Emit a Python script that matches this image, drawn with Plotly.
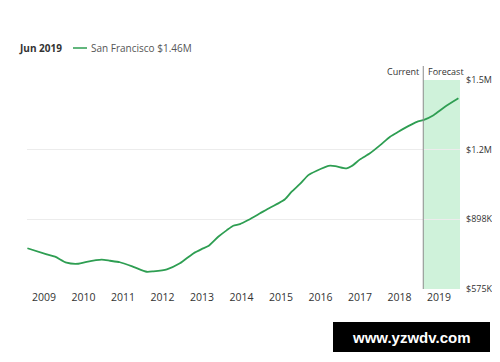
import plotly.graph_objects as go

# Data (decimal year, median value in $K)
years = [2008.58, 2009.07, 2009.28, 2009.57, 2009.87, 2010.08, 2010.46, 2010.67, 2010.92,
         2011.26, 2011.60, 2011.77, 2012.11, 2012.44, 2012.78, 2012.99, 2013.16, 2013.41,
         2013.63, 2013.79, 2013.96, 2014.17, 2014.47, 2014.72, 2014.93, 2015.10, 2015.27,
         2015.48, 2015.69, 2015.90, 2016.20, 2016.37, 2016.66, 2016.79, 2017.00, 2017.25,
         2017.51, 2017.76, 2017.97, 2018.22, 2018.44, 2018.60, 2018.86, 2019.15, 2019.49]
values_k = [764, 736, 725, 697, 692, 701, 711, 706, 699,
            678, 655, 657, 666, 694, 740, 760, 774, 817,
            848, 868, 876, 895, 926, 952, 972, 991, 1026,
            1062, 1103, 1123, 1146, 1145, 1134, 1145, 1176, 1204,
            1242, 1281, 1304, 1330, 1350, 1358, 1381, 1420, 1459]

year_ticks = [2009, 2010, 2011, 2012, 2013, 2014, 2015, 2016, 2017, 2018, 2019]
value_ticks = [575, 898, 1221, 1544]
value_tick_labels = ["$575K", "$898K", "$1.2M", "$1.5M"]

forecast_start = 2018.60
x_range = [2008.57, 2019.53]
series_name = "San Francisco"
header_date = "Jun 2019"
header_value = "$1.46M"

GREEN = "#2e9e52"
BAND = "#cff2da"
FONT = "Open Sans"

# page offset of the plot div (default body margin)
O = 8
# plot area in page pixels
L, R, T, B = 27, 460, 80, 289
W, H = 500 - O, 362 - O


def px(xp):
    return (xp - L) / (R - L)


def py(yp):
    return (B - yp) / (B - T)


fig = go.Figure()
fig.add_trace(go.Scatter(x=years, y=values_k, mode="lines",
                         line=dict(color=GREEN, width=1.8, shape="spline", smoothing=0.6),
                         name=series_name, showlegend=False, hoverinfo="skip"))

fig.update_layout(
    width=W, height=H,
    margin=dict(l=L - O, r=500 - R, t=T - O, b=362 - B, pad=0, autoexpand=False),
    paper_bgcolor="white", plot_bgcolor="white",
    font=dict(family=FONT, size=10, color="#333"),
    showlegend=False,
    xaxis=dict(range=x_range, tickvals=year_ticks, ticktext=[str(y) for y in year_ticks],
               showgrid=False, zeroline=False, showline=False, ticks="", automargin=False,
               tickfont=dict(size=10.5, color="#333"), fixedrange=True),
    yaxis=dict(range=[value_ticks[0], value_ticks[-1]], tickvals=value_ticks,
               ticktext=value_tick_labels, side="right", showgrid=True, automargin=False,
               gridcolor="#ececec", gridwidth=1, zeroline=False, showline=False,
               ticks="", ticklabelstandoff=5, tickfont=dict(size=9, color="#333"),
               fixedrange=True),
)

# forecast band
fig.add_shape(type="rect", xref="x", yref="paper", x0=forecast_start, x1=x_range[1],
              y0=0, y1=1, fillcolor=BAND, line=dict(width=0), layer="between")
# current divider
fig.add_shape(type="line", xref="x", yref="paper", x0=forecast_start, x1=forecast_start,
              y0=0, y1=py(66), line=dict(color="#8a8a8a", width=1), layer="above")
fig.add_annotation(x=forecast_start, xref="x", y=py(71), yref="paper", text="Current",
                   showarrow=False, xanchor="right", yanchor="middle", xshift=-2,
                   font=dict(size=9, color="#333"))
fig.add_annotation(x=forecast_start, xref="x", y=py(71), yref="paper", text="Forecast",
                   showarrow=False, xanchor="left", yanchor="middle", xshift=3,
                   font=dict(size=9, color="#333"))

# header legend
fig.add_annotation(x=px(17), xref="paper", y=py(48), yref="paper", text="<b>" + header_date + "</b>",
                   showarrow=False, xanchor="left", yanchor="middle",
                   font=dict(size=10, color="#333"))
fig.add_shape(type="line", xref="paper", yref="paper", x0=px(73), x1=px(87), y0=py(48), y1=py(48),
              line=dict(color=GREEN, width=1.5))
fig.add_annotation(x=px(89), xref="paper", y=py(48), yref="paper",
                   text=series_name + " " + header_value,
                   showarrow=False, xanchor="left", yanchor="middle",
                   font=dict(size=10, color="#555"))

# watermark
fig.add_shape(type="rect", xref="paper", yref="paper", x0=px(333), x1=px(490),
              y0=py(352), y1=py(322), fillcolor="black", line=dict(width=0), layer="above")
fig.add_annotation(x=px(411.5), xref="paper", y=py(337), yref="paper", text="<b>www.yzwdv.com</b>",
                   showarrow=False, xanchor="center", yanchor="middle",
                   font=dict(size=15, color="white", family="Liberation Sans"))

fig.write_html("out.html")
